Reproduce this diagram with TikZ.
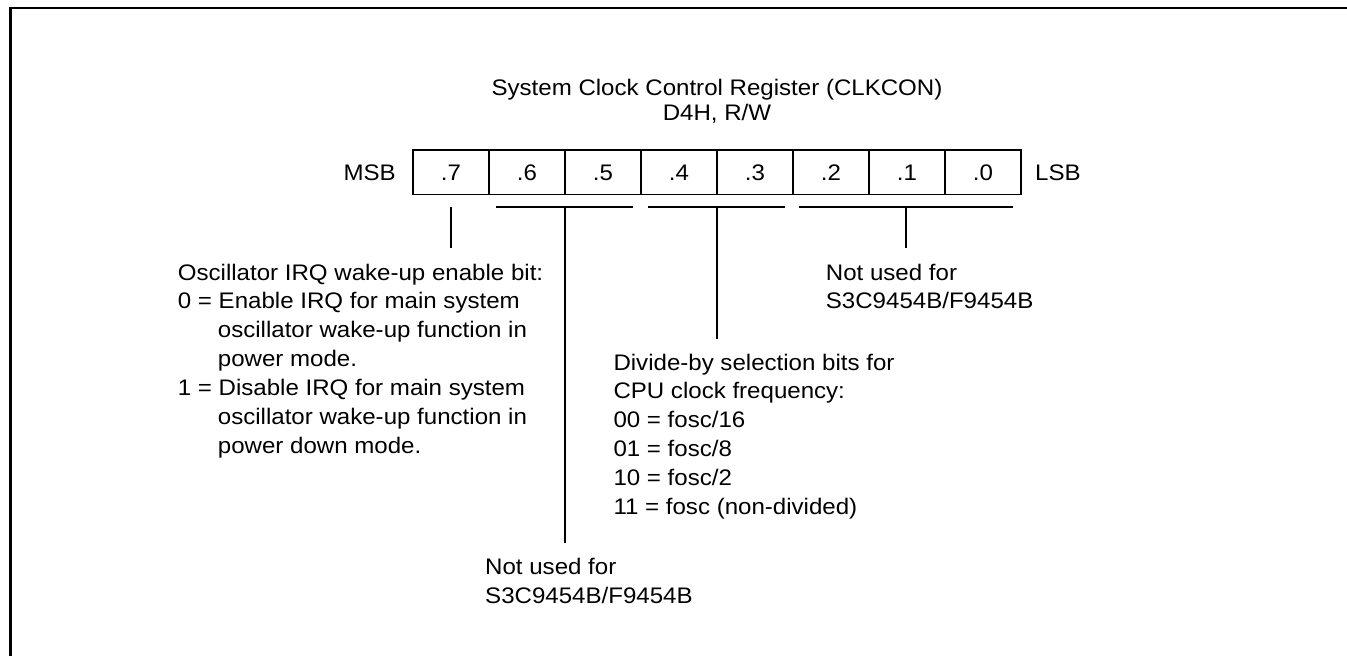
\documentclass[tikz,border=0pt]{standalone}
\usepackage{fontspec}
\setmainfont{Liberation Sans}[FakeStretch=1.07]
\begin{document}
\begin{tikzpicture}[x=1pt,y=-1pt,
  every node/.style={font=\fontsize{22.5}{29}\selectfont},
  frame/.style={line width=2.7pt, line join=miter},
  cell/.style={draw, line width=1.5pt, minimum width=76pt, minimum height=44.7pt,
    inner sep=0pt, text height=16pt, text depth=0pt, anchor=center},
  lbl/.style={inner sep=0pt, anchor=base west},
  ttl/.style={inner sep=0pt, anchor=base},
  wire/.style={line width=1.3pt}]
\useasboundingbox (0,0) rectangle (1347,656);
\draw[frame] (1347,8) -- (10.3,8) -- (10.3,656);

% title
\node[ttl] (title1) at (717,95) {System Clock Control Register (CLKCON)};
\node[ttl] (title2) at (717,120) {D4H, R/W};

% register
\node[cell] (b7) at (451,172.35) {.7};
\node[cell] (b6) at (527,172.35) {.6};
\node[cell] (b5) at (603,172.35) {.5};
\node[cell] (b4) at (679,172.35) {.4};
\node[cell] (b3) at (755,172.35) {.3};
\node[cell] (b2) at (831,172.35) {.2};
\node[cell] (b1) at (907,172.35) {.1};
\node[cell] (b0) at (983,172.35) {.0};
\node[inner sep=0pt, anchor=base east] (msb) at (396,180) {MSB};
\node[lbl] (lsb) at (1035,180) {LSB};

% brackets and stems
\coordinate (t7a) at (451,207);
\coordinate (t7b) at (451,248);
\draw[wire] (t7a) -- (t7b);

\coordinate (k65l) at (496,207);
\coordinate (k65r) at (633,207);
\coordinate (k65s) at (565,207);
\coordinate (k65e) at (565,543);
\draw[wire] (k65l) -- (k65r);
\draw[wire] (k65s) -- (k65e);

\coordinate (k43l) at (648,207);
\coordinate (k43r) at (785,207);
\coordinate (k43s) at (717,207);
\coordinate (k43e) at (717,339);
\draw[wire] (k43l) -- (k43r);
\draw[wire] (k43s) -- (k43e);

\coordinate (k20l) at (799,207);
\coordinate (k20r) at (1013,207);
\coordinate (k20s) at (906,207);
\coordinate (k20e) at (906,248);
\draw[wire] (k20l) -- (k20r);
\draw[wire] (k20s) -- (k20e);

% bit 7 description
\node[lbl] (o1) at (177.7,280) {Oscillator IRQ wake-up enable bit:};
\node[lbl] (o2) at (177.7,308.9) {0 = Enable IRQ for main system};
\node[lbl] (o3) at (217.7,337.8) {oscillator wake-up function in};
\node[lbl] (o4) at (217.7,366.7) {power mode.};
\node[lbl] (o5) at (177.7,395.6) {1 = Disable IRQ for main system};
\node[lbl] (o6) at (217.7,424.5) {oscillator wake-up function in};
\node[lbl] (o7) at (217.7,453.4) {power down mode.};

% bits 4-3 description
\node[lbl] (d1) at (613.3,370) {Divide-by selection bits for};
\node[lbl] (d2) at (613.3,398.9) {CPU clock frequency:};
\node[lbl] (d3) at (613.3,427.8) {00 = fosc/16};
\node[lbl] (d4) at (613.3,456.7) {01 = fosc/8};
\node[lbl] (d5) at (613.3,485.6) {10 = fosc/2};
\node[lbl] (d6) at (613.3,514.5) {11 = fosc (non-divided)};

% bits 6-5 description
\node[lbl] (n1) at (485,574.3) {Not used for};
\node[lbl] (n2) at (485,603.2) {S3C9454B/F9454B};

% bits 2-0 description
\node[lbl] (m1) at (825.7,280) {Not used for};
\node[lbl] (m2) at (825.7,308.9) {S3C9454B/F9454B};
\end{tikzpicture}
\end{document}
